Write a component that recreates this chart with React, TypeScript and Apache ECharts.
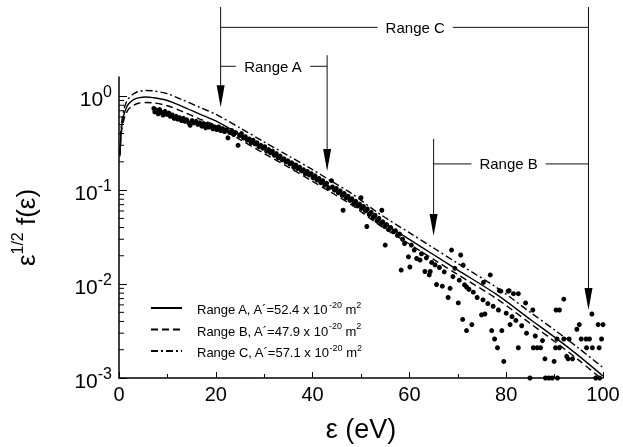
import React, { useEffect, useRef } from 'react';
import * as echarts from 'echarts';

const FONT = '"Liberation Sans", Arial, Helvetica, sans-serif';

// energy grid of the three fitted curves (eV)
const curveE = [0.2, 0.5, 1, 1.5, 2, 3, 4, 5.5, 7, 10, 13, 16.7, 20, 25, 30, 35, 40, 43.6, 48, 53.9, 60, 65, 70, 78, 85, 90, 95, 100];
// Range A, solid
const curveA = [0.24, 0.45, 0.63, 0.75, 0.83, 0.92, 0.96, 0.98, 0.965, 0.9, 0.78, 0.644, 0.545, 0.39, 0.277, 0.198, 0.14, 0.108, 0.0787, 0.0471, 0.0299, 0.0205, 0.0141, 0.00776, 0.0042, 0.00272, 0.00172, 0.00105];
// Range B, dashed
const curveB = [0.23, 0.41, 0.56, 0.66, 0.73, 0.8, 0.84, 0.855, 0.85, 0.79, 0.69, 0.57, 0.485, 0.345, 0.245, 0.176, 0.124, 0.096, 0.07, 0.042, 0.0267, 0.0183, 0.0126, 0.007, 0.0038, 0.00245, 0.00155, 0.00095];
// Range C, dash-dot
const curveC = [0.25, 0.5, 0.72, 0.86, 0.95, 1.06, 1.12, 1.15, 1.14, 1.06, 0.92, 0.76, 0.64, 0.46, 0.325, 0.232, 0.165, 0.127, 0.0925, 0.0555, 0.0352, 0.0242, 0.0166, 0.0092, 0.005, 0.00325, 0.00207, 0.00129];

const seriesNames = ['Range A', 'Range B', 'Range C'];
const seriesCoef = ['52.4', '47.9', '57.1'];

const yMajor = [0.001, 0.01, 0.1, 1];
const yMinor = [0.002, 0.003, 0.004, 0.005, 0.006, 0.007, 0.008, 0.009, 0.02, 0.03, 0.04, 0.05, 0.06, 0.07, 0.08, 0.09, 0.2, 0.3, 0.4, 0.5, 0.6, 0.7, 0.8, 0.9];

// measured points [eV, value]
const scatterPoints: [number, number][] = [
  [7.2, 0.74], [7.4, 0.68], [7.8, 0.71], [8.1, 0.65], [8.4, 0.72], [8.8, 0.67], [9.1, 0.63], [9.5, 0.69], [9.9, 0.64], [10.3, 0.66],
  [10.6, 0.61], [11.0, 0.63], [11.4, 0.58], [11.8, 0.61], [12.1, 0.57], [12.5, 0.59], [12.9, 0.55], [13.3, 0.58], [13.6, 0.54], [14.0, 0.56],
  [14.4, 0.52], [14.7, 0.49], [15.1, 0.55], [15.5, 0.52], [15.9, 0.54], [16.3, 0.5], [16.7, 0.52], [17.1, 0.48], [17.5, 0.51], [17.9, 0.46],
  [18.2, 0.5], [18.6, 0.47], [19.0, 0.49], [19.4, 0.45], [19.8, 0.47], [20.2, 0.44], [20.6, 0.47], [21.0, 0.43], [21.4, 0.45], [21.8, 0.42],
  [22.2, 0.44], [22.5, 0.36], [22.9, 0.41], [23.3, 0.43], [23.7, 0.39], [24.1, 0.41], [24.6, 0.3], [24.9, 0.38], [25.3, 0.4], [25.7, 0.36],
  [26.1, 0.37], [26.5, 0.34], [26.9, 0.35], [27.3, 0.32], [27.7, 0.34], [28.1, 0.31], [28.5, 0.32], [28.9, 0.29], [29.3, 0.3], [29.7, 0.28],
  [30.1, 0.29], [30.5, 0.26], [30.9, 0.27], [31.3, 0.25], [31.7, 0.26], [32.1, 0.235], [32.5, 0.245], [32.9, 0.22], [33.3, 0.23], [33.7, 0.21],
  [34.1, 0.215], [34.5, 0.2], [34.9, 0.205], [35.3, 0.19], [35.7, 0.195], [36.1, 0.175], [36.5, 0.185], [36.9, 0.17], [37.3, 0.175], [37.7, 0.16],
  [38.1, 0.165], [38.5, 0.15], [38.9, 0.158], [39.3, 0.145], [39.7, 0.15], [40.1, 0.135], [40.5, 0.142], [40.9, 0.128], [41.3, 0.133], [41.7, 0.12],
  [42.1, 0.126], [42.5, 0.113], [42.9, 0.118], [43.3, 0.105], [43.9, 0.126], [44.1, 0.108], [44.5, 0.1], [44.9, 0.104], [45.3, 0.094], [45.7, 0.098],
  [46.1, 0.088], [46.3, 0.061], [46.5, 0.092], [46.9, 0.083], [47.3, 0.086], [47.7, 0.078], [48.1, 0.081], [48.5, 0.072], [48.9, 0.076], [49.3, 0.068],
  [49.7, 0.071], [50.0, 0.083], [50.1, 0.064], [50.5, 0.067], [50.9, 0.06], [51.2, 0.041], [51.3, 0.063], [51.7, 0.055], [52.1, 0.058], [52.5, 0.051],
  [52.9, 0.054], [53.3, 0.047], [53.7, 0.05], [54.1, 0.044], [54.3, 0.061], [54.5, 0.046], [54.9, 0.041], [55.0, 0.026], [55.3, 0.043], [55.7, 0.038],
  [56.1, 0.04], [56.7, 0.036], [57.1, 0.037], [57.5, 0.033], [58.0, 0.034],
  [58.3, 0.0141], [58.6, 0.03], [59.0, 0.027], [59.8, 0.0195], [60.1, 0.0152], [60.4, 0.026], [61.0, 0.023], [61.5, 0.0187], [62.2, 0.018], [62.5, 0.021],
  [63.2, 0.0136], [63.5, 0.019], [64.1, 0.0125], [64.3, 0.0136], [64.6, 0.017], [65.3, 0.016], [65.6, 0.0099], [66.2, 0.015], [66.8, 0.0095], [67.2, 0.0135],
  [68.0, 0.0072], [68.4, 0.009], [68.7, 0.023], [69.0, 0.012], [69.4, 0.0147], [70.1, 0.0063], [70.3, 0.011], [70.6, 0.0204], [71.0, 0.0042], [71.1, 0.0159],
  [71.4, 0.0098], [71.8, 0.0093], [71.8, 0.0032], [72.3, 0.0088], [72.9, 0.0037], [73.2, 0.0082], [74.0, 0.0072], [74.9, 0.0047], [75.2, 0.0068], [75.3, 0.0104],
  [75.6, 0.0048], [76.2, 0.0062], [76.7, 0.0125], [77.0, 0.0032], [77.3, 0.0058], [77.6, 0.0026], [78.2, 0.0021], [78.4, 0.0053], [78.6, 0.0085], [78.9, 0.0084],
  [79.1, 0.0032], [79.5, 0.0015], [80.0, 0.0049], [80.4, 0.0084], [80.6, 0.0085], [80.8, 0.0037], [81.2, 0.0045], [81.5, 0.0079], [82.0, 0.0041], [82.5, 0.0079],
  [82.5, 0.0021], [83.2, 0.0036], [84.0, 0.0063], [84.2, 0.003], [84.9, 0.001], [85.5, 0.0053], [85.6, 0.0021], [86.0, 0.0028], [86.4, 0.0021], [87.1, 0.0021],
  [87.5, 0.0025], [88.0, 0.0016], [88.1, 0.001], [88.8, 0.001], [89.5, 0.001], [89.9, 0.0015], [90.2, 0.0021], [90.3, 0.0053], [90.5, 0.0026], [90.6, 0.001],
  [91.0, 0.0053], [91.0, 0.0021], [91.9, 0.0069], [91.9, 0.0026], [92.5, 0.0017], [92.8, 0.0016], [93.0, 0.0026], [93.7, 0.0016], [94.6, 0.0033], [95.1, 0.0037],
  [95.5, 0.0026], [96.5, 0.0026], [96.6, 0.0021], [97.2, 0.0026], [97.7, 0.0048], [97.8, 0.0021], [98.5, 0.001], [99.0, 0.0037], [99.2, 0.0021], [99.3, 0.001],
  [99.7, 0.0026], [100, 0.0037],
];

// annotation arrows: energy, top value, tip value
const arrowE = [21, 43, 65, 97];
const arrowTop = [8.9, 2.73, 0.35, 8.9];
const arrowTip = [0.76, 0.16, 0.0325, 0.0053];
// range brackets
const rangeLabels = ['Range A', 'Range B', 'Range C'];
const rangeFrom = [21, 65, 21];
const rangeTo = [43, 97, 97];
const rangeLevel = [2.08, 0.19, 5.4];
const rangeLabelE = [31.8, 80.5, 61.2];

export default function App() {
  const ref = useRef<HTMLDivElement>(null);
  useEffect(() => {
    document.body.style.margin = '0';
    const chart = echarts.init(ref.current!, undefined, { renderer: 'svg' });
    const lineSeries = (name: string, data: number[], type: any) => ({
      name,
      type: 'line',
      data: curveE.map((e, i) => [e, data[i]]),
      symbol: 'none',
      smooth: 0.3,
      lineStyle: { color: '#000', width: 1.4, type },
      itemStyle: { color: '#000' },
      z: 4,
    });
    chart.setOption({
      animation: false,
      textStyle: { fontFamily: FONT },
      grid: { left: 119, right: 20, top: 77, bottom: 69 },
      legend: {
        data: seriesNames,
        orient: 'vertical',
        left: 145,
        top: 295,
        itemWidth: 31,
        itemHeight: 16,
        itemGap: 5.5,
        selectedMode: false,
        itemStyle: { color: 'rgba(0,0,0,0)', borderWidth: 0, opacity: 0 },
        formatter: (name: string) => {
          const i = seriesNames.indexOf(name);
          return `{p|}{t|${name}, A´=${seriesCoef[i]} x 10}{s|-20}{t| m}{s|2}`;
        },
        textStyle: {
          color: '#000',
          rich: {
            p: { width: 10 },
            t: { fontSize: 13, lineHeight: 16, verticalAlign: 'bottom', color: '#000', fontFamily: FONT },
            s: { fontSize: 9, lineHeight: 10, verticalAlign: 'top', color: '#000', fontFamily: FONT },
          },
        },
      },
      xAxis: {
        type: 'value',
        min: 0,
        max: 100,
        interval: 20,
        name: 'ε (eV)',
        nameLocation: 'middle',
        nameGap: 37,
        nameTextStyle: { fontSize: 27, color: '#000', fontFamily: FONT },
        axisLine: { lineStyle: { color: '#000', width: 1.5 } },
        axisTick: { inside: true, length: 6, lineStyle: { color: '#000', width: 1 } },
        minorTick: { show: true, splitNumber: 2, length: 4, lineStyle: { color: '#000', width: 1 } },
        axisLabel: { fontSize: 20, color: '#000', margin: 6, fontFamily: FONT },
        splitLine: { show: false },
      },
      yAxis: {
        type: 'log',
        logBase: 10,
        min: 0.001,
        max: 1.6,
        name: '{g|ε}{s|1/2}{g| f(ε)}',
        nameLocation: 'middle',
        nameGap: 80,
        nameTextStyle: {
          color: '#000',
          rich: {
            g: { fontSize: 26, lineHeight: 30, verticalAlign: 'bottom', color: '#000', fontFamily: FONT },
            s: { fontSize: 16, lineHeight: 18, verticalAlign: 'top', color: '#000', fontFamily: FONT },
          },
        },
        axisLine: { show: true, lineStyle: { color: '#000', width: 1.5 } },
        axisTick: { inside: true, length: 8, customValues: yMajor, lineStyle: { color: '#000', width: 1 } },
        axisLabel: {
          customValues: yMajor,
          margin: 7,
          formatter: (v: number) => {
            const ex = Math.round(Math.log10(v));
            if (Math.abs(Math.log10(v) - ex) > 1e-6) return '';
            return `{b|10}{e|${ex}}`;
          },
          rich: {
            b: { fontSize: 21, lineHeight: 26, verticalAlign: 'bottom', color: '#000', fontFamily: FONT },
            e: { fontSize: 16, lineHeight: 16, verticalAlign: 'top', color: '#000', fontFamily: FONT },
          },
        },
        splitLine: { show: false },
      },
      series: [
        {
          type: 'scatter',
          data: scatterPoints,
          symbol: 'circle',
          symbolSize: 5,
          itemStyle: { color: '#000', opacity: 1 },
          z: 3,
        },
        lineSeries('Range A', curveA, 'solid'),
        lineSeries('Range B', curveB, [7, 4]),
        lineSeries('Range C', curveC, [7, 3, 2, 3]),
        {
          type: 'custom',
          data: yMinor.map((v) => [0, v]),
          silent: true,
          clip: false,
          z: 5,
          renderItem: (params: any, api: any) => {
            const p = api.coord([api.value(0), api.value(1)]);
            return {
              type: 'line',
              shape: { x1: p[0], y1: p[1], x2: p[0] + 5, y2: p[1] },
              style: { stroke: '#000', lineWidth: 1 },
            };
          },
        },
      ],
    });

    const X = (e: number) => chart.convertToPixel({ xAxisIndex: 0 }, e) as number;
    const Y = (v: number) => chart.convertToPixel({ yAxisIndex: 0 }, v) as number;
    const stroke = { stroke: '#111', lineWidth: 1 };
    const elements: any[] = [];
    arrowE.forEach((e, i) => {
      const x = X(e);
      const yT = Y(arrowTop[i]);
      const yP = Y(arrowTip[i]);
      elements.push({ type: 'line', shape: { x1: x, y1: yT, x2: x, y2: yP - 18 }, style: stroke, z: 10 });
      elements.push({
        type: 'polygon',
        shape: { points: [[x - 4, yP - 22], [x + 4, yP - 22], [x, yP]] },
        style: { fill: '#000' },
        z: 10,
      });
    });
    rangeLabels.forEach((lab, i) => {
      const y = Y(rangeLevel[i]);
      elements.push({ type: 'line', shape: { x1: X(rangeFrom[i]), y1: y, x2: X(rangeTo[i]), y2: y }, style: stroke, z: 10 });
      elements.push({
        type: 'text',
        x: X(rangeLabelE[i]),
        y,
        z: 11,
        style: {
          text: lab,
          fontSize: 15,
          fontFamily: FONT,
          fill: '#000',
          align: 'center',
          verticalAlign: 'middle',
          backgroundColor: '#fff',
          padding: [2, 8],
        },
      });
    });
    chart.setOption({ graphic: elements });
    return () => chart.dispose();
  }, []);
  return <div ref={ref} style={{ position: 'fixed', left: 0, top: 0, width: 623, height: 447 }} />;
}
